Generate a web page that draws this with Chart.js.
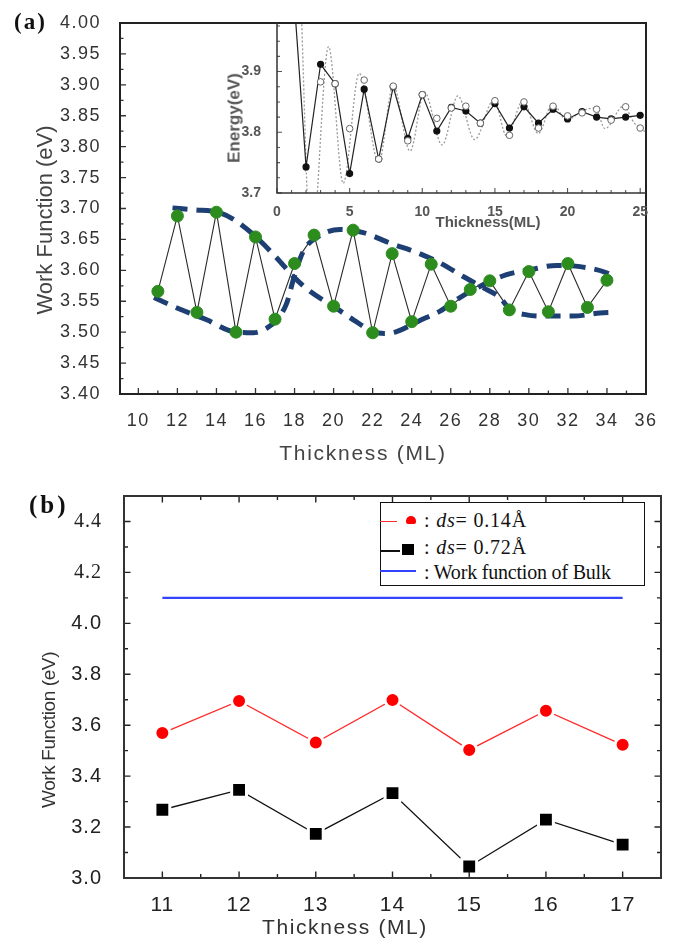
<!DOCTYPE html>
<html><head><meta charset="utf-8">
<script src="https://cdn.jsdelivr.net/npm/chart.js@4.4.0/dist/chart.umd.min.js"></script>
<style>
html,body{margin:0;padding:0;background:#fff;}
#wrap{position:relative;width:682px;height:940px;overflow:hidden;background:#fff;}
canvas{position:absolute;}
.t{position:absolute;white-space:nowrap;font-family:"Liberation Sans",Arial,sans-serif;color:#3a3a3a;line-height:1;}
.c{transform:translate(-50%,-50%);}
.r{transform:translate(-50%,-50%) rotate(-90deg);}
.lg{position:absolute;}
.lt{position:absolute;white-space:nowrap;font-family:"Liberation Serif","Times New Roman",serif;font-size:20px;color:#111;line-height:1;transform:translateY(-50%);}
</style></head><body>
<div id="wrap">
<canvas id="cA" width="682" height="470" style="left:0;top:0"></canvas>
<canvas id="cI" width="682" height="470" style="left:0;top:0"></canvas>
<canvas id="cB" width="682" height="470" style="left:0;top:470px"></canvas>

<div class="t" style="left:14px;top:22px;transform:translateY(-50%);font:bold 23px 'Liberation Serif',serif;letter-spacing:2px;color:#111">(a)</div>
<div class="t r" style="left:45px;top:220px;font-size:22px;color:#444">Work Function (eV)</div>
<div class="t c" style="left:363px;top:452px;font-size:21px;letter-spacing:1.7px;color:#444">Thickness (ML)</div>
<div class="t r" style="left:234px;top:118px;font-size:17px;font-weight:bold;color:#555">Energy(eV)</div>
<div class="t c" style="left:488px;top:221px;font-size:15px;font-weight:bold;color:#555">Thickness(ML)</div>

<div class="t" style="left:29px;top:505px;transform:translateY(-50%);font:bold 25px 'Liberation Serif',serif;letter-spacing:3px;color:#111">(b)</div>
<div class="t r" style="left:48px;top:730px;font-size:19px;letter-spacing:-0.4px;color:#333">Work Function (eV)</div>
<div class="t c" style="left:345px;top:926px;font-size:21px;letter-spacing:1.6px;color:#333">Thickness (ML)</div>

<div class="lg" style="left:380px;top:502px;width:265px;height:84px;border:1.5px solid #111;box-sizing:border-box;background:#fff"></div>
<div class="lg" style="left:380px;top:521px;width:17px;height:1.3px;background:#ff2a2a"></div>
<div class="lg" style="left:406px;top:516px;width:10px;height:8px;border-radius:5px 5px 2px 2px;background:#ff0000"></div>
<div class="lt" style="left:424px;top:520px;letter-spacing:0.8px">: <i>ds</i>= 0.14Å</div>
<div class="lg" style="left:380px;top:550px;width:20px;height:1.5px;background:#111"></div>
<div class="lg" style="left:402px;top:544px;width:12px;height:11px;background:#000"></div>
<div class="lt" style="left:424px;top:547px;letter-spacing:0.8px">: <i>ds</i>= 0.72Å</div>
<div class="lg" style="left:380px;top:570px;width:36px;height:1.5px;background:#3344ff"></div>
<div class="lt" style="left:424px;top:572px;letter-spacing:-0.2px">: Work function of Bulk</div>
</div>
<script>
// ---------- Panel (a): main data ----------
const aThickness = [11,12,13,14,15,16,17,18,19,20,21,22,23,24,25,26,27,28,29,30,31,32,33,34];
const aWorkFunction = [3.566,3.688,3.532,3.694,3.500,3.654,3.521,3.611,3.657,3.542,3.665,3.499,3.627,3.517,3.610,3.542,3.569,3.583,3.536,3.598,3.533,3.611,3.540,3.584];
// dashed envelope curves
const envAx = [11.75,12.82,14.18,15.04,16.06,17.09,17.94,18.79,19.98,21.01,22.03,22.6,23.23,24.42,25.45,26.47,27.49,28.86,30.06,31.42,32.62,33.98,34.32];
const envAy = [3.701,3.698,3.693,3.679,3.653,3.620,3.590,3.566,3.542,3.520,3.501,3.498,3.501,3.519,3.534,3.556,3.574,3.593,3.601,3.608,3.606,3.596,3.590];
const envBx = [10.8,12.14,13.50,14.86,15.89,16.6,17.09,17.60,17.94,18.45,19.13,20.33,21.52,22.89,24.25,25.45,26.64,27.66,28.52,29.03,29.89,30.91,32.27,33.64,34.36];
const envBy = [3.556,3.537,3.520,3.501,3.499,3.507,3.520,3.547,3.585,3.631,3.653,3.666,3.661,3.644,3.629,3.612,3.590,3.572,3.556,3.537,3.528,3.526,3.526,3.531,3.532];
const aXTicks = [10,12,14,16,18,20,22,24,26,28,30,32,34,36];
const aYTicks = [3.40,3.45,3.50,3.55,3.60,3.65,3.70,3.75,3.80,3.85,3.90,3.95,4.00];

// ---------- Inset ----------
const insetThick = [1,2,3,4,5,6,7,8,9,10,11,12,13,14,15,16,17,18,19,20,21,22,23,24,25];
const insetFilled = [4.08,3.743,3.912,3.880,3.732,3.871,3.756,3.875,3.790,3.862,3.802,3.841,3.835,3.815,3.847,3.807,3.842,3.815,3.838,3.822,3.834,3.825,3.822,3.825,3.828];
const insetOpenX = [3,4,5,6,7,8,9,10,11,12,13,14,15,16,17,18,19,20,21,22,23,24,25];
const insetOpenY = [3.883,3.880,3.806,3.886,3.756,3.876,3.786,3.862,3.823,3.840,3.843,3.815,3.852,3.795,3.850,3.807,3.843,3.827,3.832,3.838,3.820,3.842,3.807];
const insetCurveX = [1.6,2.35,3.55,4.56,5.66,7.0,8.0,9.16,10.15,11.37,12.45,13.6,14.94,15.8,16.94,17.98,18.97,19.93,21.0,21.9,22.58,23.85,24.6,25.4];
const insetCurveY = [4.05,3.60,3.941,3.716,3.897,3.750,3.877,3.769,3.866,3.779,3.860,3.788,3.854,3.794,3.852,3.798,3.847,3.820,3.835,3.840,3.806,3.843,3.815,3.800];
const insetXTicks = [0,5,10,15,20,25];
const insetYTicks = [3.7,3.8,3.9];

// ---------- Panel (b) ----------
const bThickness = [11,12,13,14,15,16,17];
const bWF014 = [3.569,3.695,3.532,3.699,3.503,3.657,3.523];
const bWF072 = [3.268,3.346,3.173,3.333,3.045,3.229,3.131];
const bulkX = [11,17];
const bulkWF = [4.10,4.10];
const bXTicks = [11,12,13,14,15,16,17];
const bYTicks = [3.0,3.2,3.4,3.6,3.8,4.0,4.2,4.4];

const pts = (xs, ys) => xs.map((x, i) => ({x: x, y: ys[i]}));
const mids = (arr, n) => { const out = []; for (let i = 0; i < arr.length - 1; i++) { const st = (arr[i+1]-arr[i])/n; for (let k = 1; k < n; k++) out.push(arr[i] + st*k); } return out; };

const innerTicks = {
  id: 'innerTicks',
  afterDatasetsDraw(chart, args, o) {
    if (!o || !o.sides) return;
    const ctx = chart.ctx, a = chart.chartArea, xs = chart.scales.x, ys = chart.scales.y;
    ctx.save();
    ctx.strokeStyle = o.color; ctx.lineWidth = o.tickWidth;
    ctx.beginPath();
    const sides = o.sides;
    const doX = (vals, len) => vals.forEach(v => {
      const p = xs.getPixelForValue(v); if (p < a.left - 0.5 || p > a.right + 0.5) return;
      if (sides.indexOf('bottom') >= 0) { ctx.moveTo(p, a.bottom); ctx.lineTo(p, a.bottom - len); }
      if (sides.indexOf('top') >= 0) { ctx.moveTo(p, a.top); ctx.lineTo(p, a.top + len); }
    });
    const doY = (vals, len) => vals.forEach(v => {
      const p = ys.getPixelForValue(v); if (p < a.top - 0.5 || p > a.bottom + 0.5) return;
      if (sides.indexOf('left') >= 0) { ctx.moveTo(a.left, p); ctx.lineTo(a.left + len, p); }
      if (sides.indexOf('right') >= 0) { ctx.moveTo(a.right, p); ctx.lineTo(a.right - len, p); }
    });
    doX(o.xMajor, o.majorLen); doX(o.xMinor, o.minorLen);
    doY(o.yMajor, o.majorLen); doY(o.yMinor, o.minorLen);
    ctx.stroke();
    ctx.strokeStyle = o.frameColor; ctx.lineWidth = o.frameWidth;
    ctx.beginPath();
    if (o.frame === 'box') {
      ctx.rect(a.left, a.top, a.right - a.left, a.bottom - a.top);
    } else {
      ctx.moveTo(a.left, a.top); ctx.lineTo(a.left, a.bottom); ctx.lineTo(a.right, a.bottom);
    }
    ctx.stroke();
    ctx.restore();
  }
};
const spacing = { id: 'spacing', beforeDraw(chart, args, o) { if (o && o.value) chart.ctx.letterSpacing = o.value; } };
Chart.register(innerTicks, spacing);

function axis(min, max, tickVals, fit, extra) {
  return Object.assign({
    type: 'linear', min: min, max: max,
    grid: {display: false}, border: {display: false},
    afterBuildTicks: s => { s.ticks = tickVals.map(v => ({value: v})); },
    afterFit: fit
  }, extra);
}

// ---------- Chart (a) ----------
new Chart(document.getElementById('cA'), {
  type: 'line',
  data: { datasets: [
    { data: pts(aThickness, aWorkFunction), showLine: false, pointRadius: 6, pointBackgroundColor: '#2d8c1e', pointBorderColor: '#2d8c1e', pointBorderWidth: 1, order: 1 },
    { data: pts(envAx, envAy), borderColor: '#1d3f73', borderWidth: 5, borderDash: [15, 9], pointRadius: 0, cubicInterpolationMode: 'monotone', order: 2 },
    { data: pts(envBx, envBy), borderColor: '#1d3f73', borderWidth: 5, borderDash: [15, 9], pointRadius: 0, cubicInterpolationMode: 'monotone', order: 2 },
    { data: pts(aThickness, aWorkFunction), borderColor: '#2a2a2a', borderWidth: 1.1, pointRadius: 0, order: 3 }
  ]},
  options: {
    responsive: false, animation: false, events: [],
    layout: {padding: {left: 0, top: 23, right: 36, bottom: 0}},
    plugins: {
      legend: {display: false}, tooltip: {enabled: false},
      spacing: {value: '1.5px'},
      innerTicks: {sides: ['left','bottom'], xMajor: aXTicks, xMinor: mids(aXTicks, 2), yMajor: aYTicks, yMinor: mids(aYTicks, 2),
        majorLen: 6, minorLen: 3.5, tickWidth: 1.3, color: '#333', frame: 'box', frameWidth: 2, frameColor: '#222'}
    },
    scales: {
      x: axis(9.06, 36, aXTicks, s => { s.height = 76; }, {ticks: {padding: 8, color: '#333', autoSkip: false, maxRotation: 0, font: {family: 'Liberation Sans', size: 18}, callback: v => String(v)}}),
      y: axis(3.4, 4.0, aYTicks, s => { s.width = 120; }, {ticks: {padding: 11, color: '#333', autoSkip: false, font: {family: 'Liberation Sans', size: 18}, callback: v => Number(v).toFixed(2)}})
    }
  }
});

// ---------- Inset ----------
new Chart(document.getElementById('cI'), {
  type: 'line',
  data: { datasets: [
    { data: pts(insetOpenX, insetOpenY), showLine: false, pointRadius: 3.3, pointBackgroundColor: '#fff', pointBorderColor: '#666', pointBorderWidth: 1, order: 1 },
    { data: pts(insetThick, insetFilled), borderColor: '#222', borderWidth: 1.2, pointRadius: 3, pointBackgroundColor: '#111', pointBorderColor: '#111', order: 2 },
    { data: pts(insetCurveX, insetCurveY), borderColor: '#9a9a9a', borderWidth: 1.3, borderDash: [2, 2], pointRadius: 0, cubicInterpolationMode: 'monotone', order: 3 }
  ]},
  options: {
    responsive: false, animation: false, events: [],
    layout: {padding: {left: 0, top: 23, right: 36, bottom: 0}},
    plugins: {
      legend: {display: false}, tooltip: {enabled: false},
      innerTicks: {sides: ['left','bottom'], xMajor: insetXTicks, xMinor: mids(insetXTicks, 5), yMajor: insetYTicks, yMinor: mids([3.6,3.7,3.8,3.9,4.0], 4),
        majorLen: 5, minorLen: 3, tickWidth: 1.1, color: '#555', frame: 'axes', frameWidth: 1.5, frameColor: '#333'}
    },
    scales: {
      x: axis(0, 25.4, insetXTicks, s => { s.height = 277; }, {ticks: {padding: 3, color: '#555', autoSkip: false, maxRotation: 0, font: {family: 'Liberation Sans', size: 14, weight: 'bold'}, callback: v => String(v)}}),
      y: axis(3.7, 3.98, insetYTicks, s => { s.width = 277; }, {ticks: {padding: 8, color: '#555', autoSkip: false, font: {family: 'Liberation Sans', size: 14, weight: 'bold'}, callback: v => Number(v).toFixed(1)}})
    }
  }
});

// ---------- Chart (b) ----------
new Chart(document.getElementById('cB'), {
  type: 'line',
  data: { datasets: [
    { data: pts(bThickness, bWF014), borderColor: '#ff2a2a', borderWidth: 1.3, pointStyle: 'circle', pointRadius: 7.5, pointBorderWidth: 3, pointBorderColor: '#fff', pointBackgroundColor: '#ff0000', order: 1 },
    { data: pts(bThickness, bWF072), borderColor: '#111', borderWidth: 1.3, pointStyle: 'rect', pointRadius: 10.5, pointBorderWidth: 3, pointBorderColor: '#fff', pointBackgroundColor: '#000', order: 2 },
    { data: pts(bulkX, bulkWF), borderColor: '#3344ff', borderWidth: 2.2, pointRadius: 0, order: 3 }
  ]},
  options: {
    responsive: false, animation: false, events: [],
    layout: {padding: {left: 0, top: 26, right: 21, bottom: 0}},
    plugins: {
      legend: {display: false}, tooltip: {enabled: false},
      spacing: {value: '1px'},
      innerTicks: {sides: ['left','bottom','top','right'], xMajor: bXTicks, xMinor: mids([10,11,12,13,14,15,16,17,18], 2), yMajor: bYTicks, yMinor: mids([3.0,3.2,3.4,3.6,3.8,4.0,4.2,4.4,4.6], 2),
        majorLen: 6.5, minorLen: 4, tickWidth: 1.4, color: '#222', frame: 'box', frameWidth: 2, frameColor: '#333'}
    },
    scales: {
      x: axis(10.5, 17.5, bXTicks, s => { s.height = 62; }, {ticks: {padding: 7, color: '#222', autoSkip: false, maxRotation: 0, font: {family: 'Liberation Sans', size: 21}, callback: v => String(v)}}),
      y: axis(3.0, 4.5, bYTicks, s => { s.width = 124; }, {ticks: {padding: 14, color: '#222', autoSkip: false,
        font: c => ({family: (c.tick && c.tick.value > 4.1) ? 'Liberation Serif' : 'Liberation Sans', size: 20}),
        callback: v => Number(v).toFixed(1)}})
    }
  }
});
</script>
</body></html>
